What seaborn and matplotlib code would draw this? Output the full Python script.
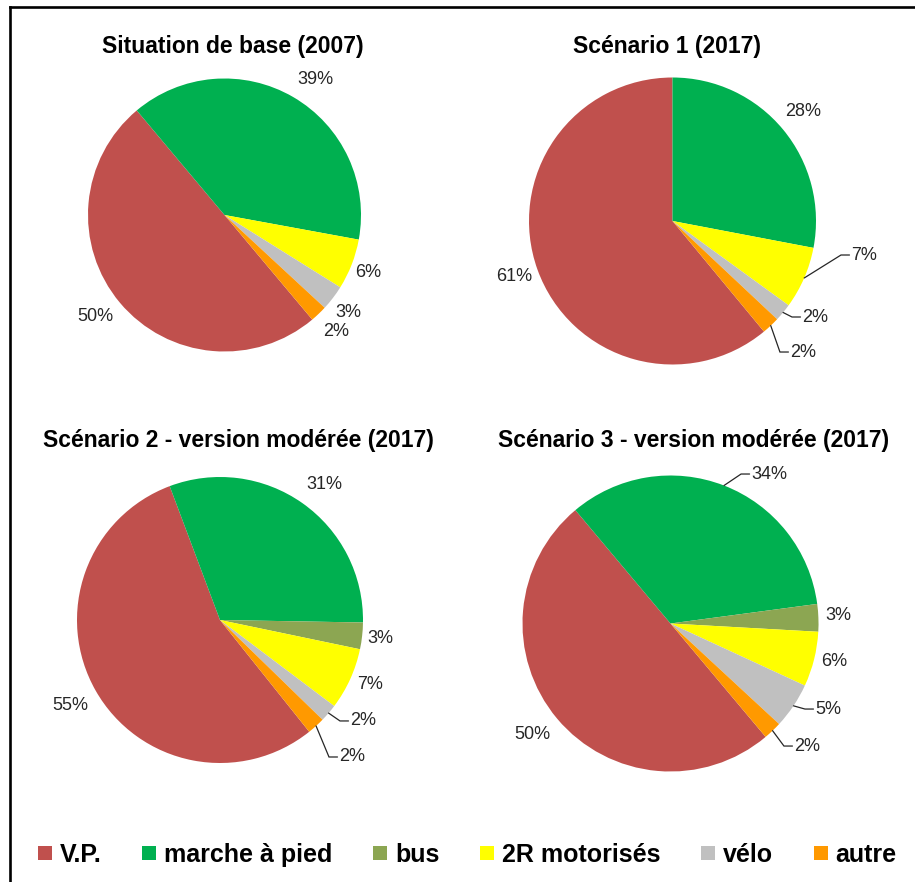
import matplotlib
matplotlib.use("Agg")
import matplotlib.pyplot as plt
import seaborn as sns
import numpy as np
from matplotlib.patches import Patch
from matplotlib.lines import Line2D

# ---------------- data ----------------
categories = ["V.P.", "marche à pied", "bus", "2R motorisés", "vélo", "autre"]
titles = ["Situation de base (2007)", "Scénario 1 (2017)",
          "Scénario 2 - version modérée (2017)", "Scénario 3 - version modérée (2017)"]
base_2007 = [50, 39, 0, 6, 3, 2]
scenario1 = [61, 28, 0, 7, 2, 2]
scenario2 = [55, 31, 3, 7, 2, 2]
scenario3 = [50, 34, 3, 6, 5, 2]
series = [base_2007, scenario1, scenario2, scenario3]

# ---------------- style ----------------
sns.set_theme(style="white")
plt.rcParams["font.family"] = ["Liberation Sans", "DejaVu Sans"]
palette = sns.color_palette(["#C0504D", "#00B050", "#8CA652", "#FFFF00", "#C0C0C0", "#FF9900"])

W, H = 915, 882
fig = plt.figure(figsize=(W / 100, H / 100), dpi=100)
fig.patch.set_facecolor("white")

# pie layout (pixel centre, radius), start angle
pie_geom = [(224.5, 215, 136.5), (672.5, 221, 143.5), (220, 620, 143), (670.5, 623.5, 148)]
start_angles = [310, 309.6, 308.6, 310]
title_pos = [(233, 47), (667, 47), (238, 440), (694, 440)]
# label centres in units of radius (None for empty slices), leader flags
label_pos = [
    [(-0.949, -0.740), (0.663, 0.996), None, (1.051, -0.418), (0.905, -0.711), (0.817, -0.850)],
    [(-1.105, -0.390), (0.909, 0.760), None, (1.334, -0.237), (0.993, -0.669), (0.909, -0.913)],
    [(-1.049, -0.601), (0.727, 0.951), (1.119, -0.126), (1.049, -0.448), (1.000, -0.706), (0.923, -0.958)],
    [(-0.936, -0.747), (0.666, 1.010), (1.132, 0.051), (1.105, -0.260), (1.064, -0.578), (0.922, -0.828)],
]
leaders = [
    [False, False, False, False, False, False],
    [False, False, False, True, True, True],
    [False, False, False, False, True, True],
    [False, True, False, False, True, True],
]
txt_color = "#262626"

renderer = fig.canvas.get_renderer()
for k, vals in enumerate(series):
    cx, cy, R = pie_geom[k]
    ax = fig.add_axes([(cx - R) / W, (H - cy - R) / H, 2 * R / W, 2 * R / H])
    ax.pie(vals, colors=palette, startangle=start_angles[k], counterclock=False,
           radius=1, center=(0, 0), wedgeprops=dict(linewidth=0))
    ax.set_xlim(-1, 1)
    ax.set_ylim(-1, 1)
    ax.set_aspect("auto")
    ax.axis("off")
    total = float(sum(vals))
    cum = 0.0
    for i, v in enumerate(vals):
        a0 = start_angles[k] - 360 * cum / total
        cum += v
        a1 = start_angles[k] - 360 * cum / total
        if v == 0:
            continue
        mid = np.deg2rad((a0 + a1) / 2)
        lx, ly = label_pos[k][i]
        t = ax.text(lx, ly, f"{v}%", ha="center", va="center", fontsize=13,
                    color=txt_color, clip_on=False)
        if leaders[k][i]:
            bb = t.get_window_extent(renderer)
            left = ax.transData.inverted().transform((bb.x0, bb.y0))[0]
            ex, ey = np.cos(mid), np.sin(mid)
            elbow_x = left - 10 / R
            end_x = left - 1.5 / R
            ax.plot([ex, elbow_x, end_x], [ey, ly, ly], color=txt_color, lw=0.9,
                    clip_on=False, solid_joinstyle="miter")
    tx, ty = title_pos[k]
    fig.text(tx / W, 1 - ty / H, titles[k], ha="center", va="center",
             fontsize=16.5, fontweight="bold", color="black")

# legend
handles = [Patch(facecolor=c, edgecolor="none") for c in palette]
leg = fig.legend(handles, categories, ncol=6, loc="center left",
                 bbox_to_anchor=(38 / W, 1 - 855 / H), frameon=False,
                 prop=dict(family=["Liberation Sans", "DejaVu Sans"], weight="bold", size=18),
                 handlelength=0.56, handleheight=0.52, handletextpad=0.32,
                 columnspacing=1.62, borderpad=0, borderaxespad=0, labelcolor="black")

# outer frame (left and top only visible)
fig.add_artist(Line2D([10 / W, 10 / W], [0, 1 - 7 / H], color="black", lw=1.9,
                      transform=fig.transFigure, solid_capstyle="projecting"))
fig.add_artist(Line2D([10 / W, 1], [1 - 7 / H, 1 - 7 / H], color="black", lw=1.9,
                      transform=fig.transFigure, solid_capstyle="projecting"))

fig.savefig("out.png", dpi=100, facecolor="white")
